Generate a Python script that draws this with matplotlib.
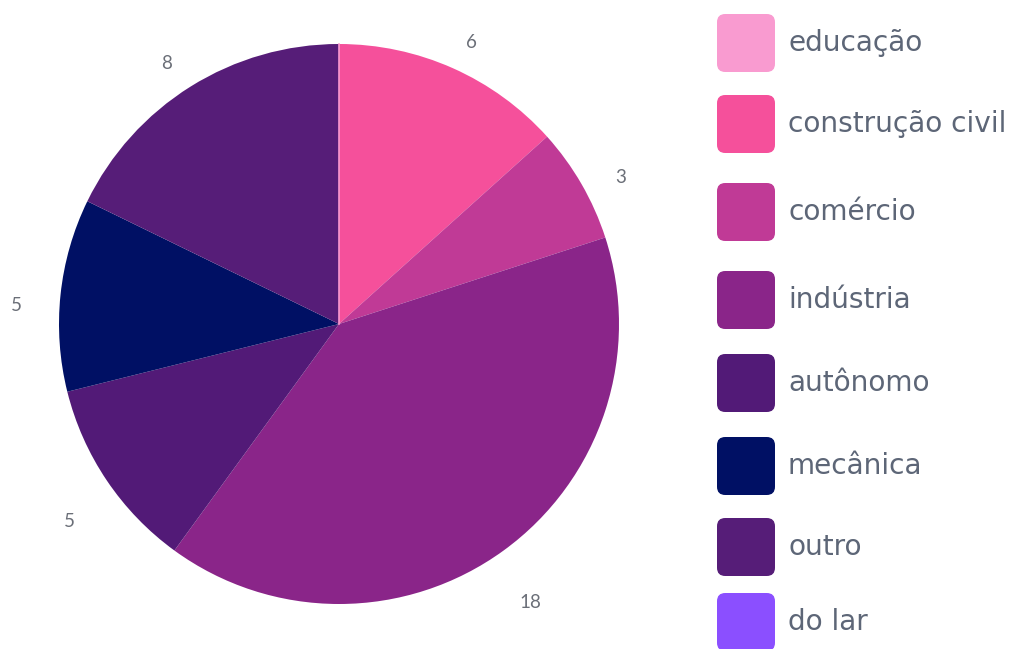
import matplotlib.pyplot as plt
from matplotlib.patches import FancyBboxPatch

categories = ['educação', 'construção civil', 'comércio', 'indústria',
              'autônomo', 'mecânica', 'outro', 'do lar']
values = [0, 6, 3, 18, 5, 5, 8, 0]
colors = ['#F99BD0', '#F5509B', '#C03A96', '#8A2589',
          '#521A77', '#001064', '#561D78', '#8B4FFF']

W, H = 1027, 649
fig = plt.figure(figsize=(W / 100, H / 100), dpi=100)

# pie centre and radius in pixels
cx, cy, R = 339, 324, 280
half = R * 1.2
ax = fig.add_axes([(cx - half) / W, (H - cy - half) / H, 2 * half / W, 2 * half / H])

plot_vals = [v for v in values if v > 0]
plot_cols = [c for v, c in zip(values, colors) if v > 0]
wedges, texts = ax.pie(plot_vals, colors=plot_cols, startangle=90, counterclock=False,
                       radius=1.0, labels=[str(v) for v in plot_vals], labeldistance=1.16,
                       wedgeprops=dict(linewidth=0), frame=True)
for t in texts:
    t.set_fontsize(13.5)
    t.set_color('#6b6f78')
    t.set_fontfamily('Lato')
    t.set_horizontalalignment('center')
    t.set_verticalalignment('center')
    x, y = t.get_position()
    t.set_position((x, y - 0.055))
ax.set_xlim(-1.2, 1.2)
ax.set_ylim(-1.2, 1.2)
ax.axis('off')
# thin line for the empty first slice
ax.plot([0, 0], [0, 1.0], color=colors[0], lw=1.2)

# legend
row_y = [43, 124, 212, 300, 383, 466, 547, 622]
for name, col, y in zip(categories, colors, row_y):
    box = FancyBboxPatch((717 / W, (H - y - 29) / H), 58 / W, 58 / H,
                         boxstyle='round,pad=0,rounding_size=0.008',
                         transform=fig.transFigure, facecolor=col, edgecolor='none',
                         mutation_aspect=W / H)
    fig.patches.append(box)
    fig.text(788 / W, (H - y) / H, name, fontsize=20.2, color='#5d6677',
             fontfamily='DejaVu Sans', va='center', ha='left')

fig.savefig('out.png', dpi=100, facecolor='white')
